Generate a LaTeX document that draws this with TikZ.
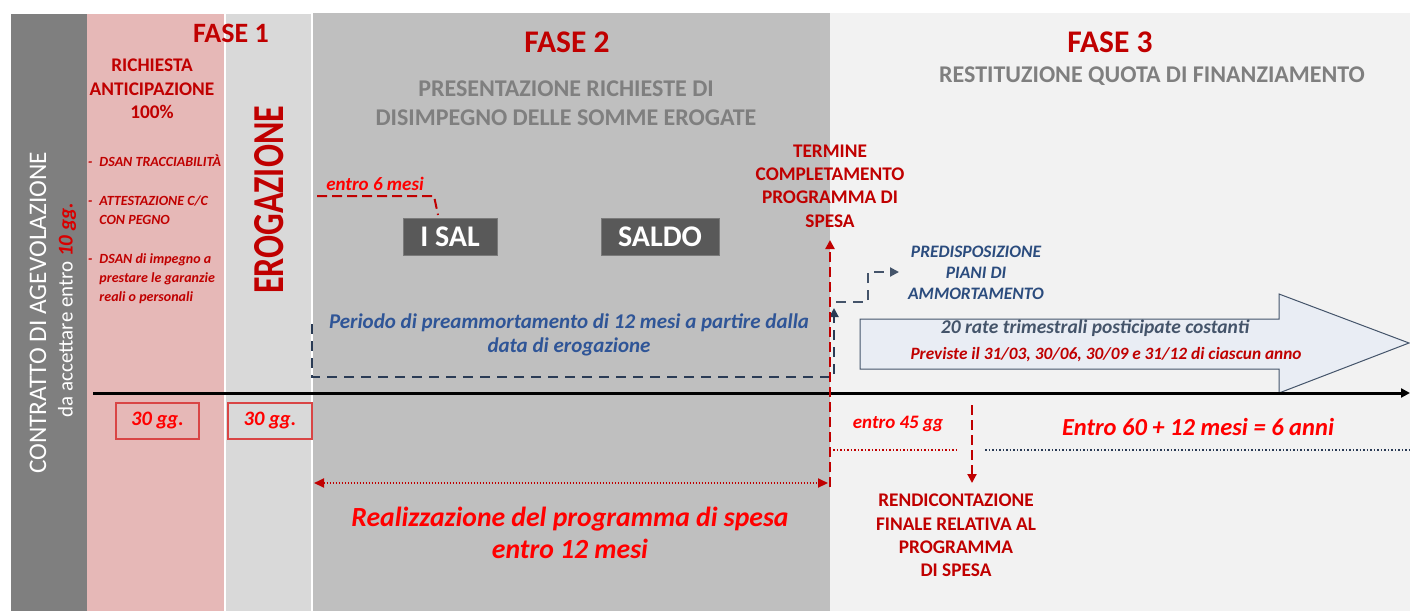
\documentclass[tikz,border=0pt]{standalone}
\usepackage{fontspec}
\setmainfont{Carlito}
\usetikzlibrary{arrows.meta}
\definecolor{darkred}{HTML}{C00000}
\definecolor{brightred}{HTML}{FF0000}
\definecolor{bandA}{HTML}{7F7F7F}
\definecolor{bandB}{HTML}{E6B8B7}
\definecolor{bandC}{HTML}{D9D9D9}
\definecolor{bandD}{HTML}{BFBFBF}
\definecolor{bandE}{HTML}{F2F2F2}
\definecolor{slate}{HTML}{44546A}
\definecolor{navy}{HTML}{2A3B55}
\definecolor{bluetext}{HTML}{2F5597}
\definecolor{predblue}{HTML}{2B4C7E}
\definecolor{boxgrey}{HTML}{595959}
\definecolor{arrowfill}{HTML}{E9EDF4}
\definecolor{ggborder}{HTML}{D94545}
\newcommand{\fsz}[2]{\fontsize{#1}{#2}\selectfont}
\tikzset{
  phase/.style={text=darkred, font=\fsz{31.5}{32}\bfseries, inner sep=0},
  subhead/.style={text=bandA, font=\fsz{24}{29}\bfseries, align=center, inner sep=0},
  redhead/.style={text=darkred, font=\fsz{19.3}{23.3}\bfseries, align=center, inner sep=0},
  bulletitem/.style={text=darkred, font=\fsz{14}{19}\bfseries\itshape, anchor=west, inner sep=0},
  salbox/.style={fill=boxgrey, draw=boxgrey!80!white, text=white, font=\fsz{30}{30}\bfseries, inner sep=0, minimum height=37},
  brightlabel/.style={text=brightred, font=\fsz{19}{20}\bfseries\itshape, inner sep=0},
  bluelabel/.style={text=bluetext, font=\fsz{21}{24}\bfseries\itshape, align=center, inner sep=0},
  reddash/.style={draw=darkred, line width=2.5, dash pattern=on 10 off 5},
  navydash/.style={draw=navy, line width=2, dash pattern=on 10 off 7},
  tipend/.style={-{Triangle[length=9,width=9]}},
  ggbox/.style={draw=ggborder, line width=1.5, text=brightred, font=\fsz{20.5}{22}\bfseries\itshape, inner sep=0, minimum height=36}
}
\begin{document}
\begin{tikzpicture}[x=1pt,y=-1pt]
\useasboundingbox (0,0) rectangle (1410,611);
\fill[white] (0,0) rectangle (1410,611);
% bands
\fill[bandA] (11,14) rectangle (87,611);
\fill[bandB] (87,14) rectangle (225,611);
\fill[bandC] (225,14) rectangle (312,611);
\fill[bandD] (312,13) rectangle (830,611);
\fill[bandE] (830,13) rectangle (1410,611);
\draw[white, line width=1.5] (225,14) -- (225,611);
\draw[white, line width=1.5] (312,13) -- (312,611);

% headers
\node[phase, font=\fsz{28}{28}\bfseries] (f1) at (231,33) {FASE 1};
\node[phase] (f2) at (567,42) {FASE 2};
\node[phase] (f3) at (1110,42) {FASE 3};
\node[subhead] (pres) at (566,103) {PRESENTAZIONE RICHIESTE DI\\DISIMPEGNO DELLE SOMME EROGATE};
\node[subhead] (rest) at (1152,76) {RESTITUZIONE QUOTA DI FINANZIAMENTO};

% left column
\node[rotate=90, text=white, font=\fsz{25.3}{25}, inner sep=0] (contr) at (38,313) {CONTRATTO DI AGEVOLAZIONE};
\node[rotate=90, text=white, font=\fsz{21}{21}, inner sep=0] (acc) at (67,310) {da accettare entro {\color{brightred!85!black}\bfseries\itshape 10 gg.}};

% fase 1
\node[redhead] (rich) at (152,89) {RICHIESTA\\ANTICIPAZIONE\\100\%};
\node[bulletitem] (b1) at (88,163) {\begin{tabular}{@{}l@{\hspace{7pt}}l@{}}-&DSAN TRACCIABILITÀ\end{tabular}};
\node[bulletitem] (b2) at (88,211) {\begin{tabular}{@{}l@{\hspace{7pt}}l@{}}-&ATTESTAZIONE C/C\\&CON PEGNO\end{tabular}};
\node[bulletitem] (b3) at (88,279) {\begin{tabular}{@{}l@{\hspace{7pt}}l@{}}-&DSAN di impegno a\\&prestare le garanzie\\&reali o personali\end{tabular}};
\node[rotate=90, text=darkred, font=\fsz{34}{34}\bfseries, inner sep=0] (erog) at (269,200) {\scalebox{1}[1.3]{EROGAZIONE}};

% fase 2
\node[brightlabel] (e6) at (375,184) {entro 6 mesi};
\node[salbox, minimum width=94] (isal) at (450,236.5) {I SAL};
\node[salbox, minimum width=118] (saldo) at (660,236.5) {SALDO};
\coordinate (d1) at (317,196);
\coordinate (d2) at (434,196);
\coordinate (d3) at (438,215);
\draw[reddash, line width=2] (d1) -- (d2) -- (d3);
\node[bluelabel] (per) at (569,335) {Periodo di preammortamento di 12 mesi a partire dalla\\data di erogazione};

% axis
\coordinate (axL) at (93,393);
\coordinate (axR) at (1410,393);

% big arrow
\draw[slate, line width=1, fill=arrowfill] (860,319) -- (1279,319) -- (1279,294) -- (1409,343) -- (1279,393) -- (1279,369) -- (860,369) -- cycle;
\node[text=slate, font=\fsz{19.5}{20}\bfseries\itshape, inner sep=0] (rate) at (1095,328) {20 rate trimestrali posticipate costanti};
\node[text=darkred, font=\fsz{17.3}{18}\bfseries\itshape, inner sep=0] (prev) at (1106,355) {Previste il 31/03, 30/06, 30/09 e 31/12 di ciascun anno};

\draw[line width=3, -{Triangle[length=9,width=9]}] (axL) -- (axR);

% navy dashed connectors
\coordinate (n1) at (312,324);
\coordinate (n2) at (834,308);
\draw[navydash, tipend] (n1) |- (834,377) -- (n2);
\coordinate (p1) at (836,302);
\coordinate (p2) at (899,272);
\draw[navydash, draw=slate, tipend] (p1) -| (868,272) -- (p2);
\node[text=predblue, font=\fsz{17.5}{21}\bfseries\itshape, align=center, inner sep=0] (pred) at (976,273) {PREDISPOSIZIONE\\PIANI DI\\AMMORTAMENTO};

% termine
\node[redhead] (term) at (830,186) {TERMINE\\COMPLETAMENTO\\PROGRAMMA DI\\SPESA};
\coordinate (rb) at (830,487);
\coordinate (rt) at (830,240);
\draw[reddash, tipend] (rb) -- (rt);

% bottom
\node[ggbox, minimum width=83] (g1) at (157.5,421) {30 gg.};
\node[ggbox, minimum width=84] (g2) at (270,421) {30 gg.};
\coordinate (r1) at (314,483);
\coordinate (r2) at (828,483);
\draw[darkred, line width=2, dash pattern=on 1.5 off 1.5, {Triangle[length=10,width=9]}-{Triangle[length=10,width=9]}] (r1) -- (r2);
\node[text=brightred, font=\fsz{27.7}{32}\bfseries\itshape, align=center, inner sep=0] (real) at (570,533) {Realizzazione del programma di spesa\\entro 12 mesi};

\node[brightlabel] (e45) at (898,424) {entro 45 gg};
\coordinate (o1) at (833,450);
\coordinate (o2) at (958,450);
\coordinate (o3) at (985,450);
\coordinate (o4) at (1410,450);
\draw[darkred, line width=2, dash pattern=on 1.5 off 2] (o1) -- (o2);
\draw[navy, line width=1.5, dash pattern=on 1.5 off 2] (o3) -- (o4);
\coordinate (v1) at (972,405);
\coordinate (v2) at (972,483);
\draw[reddash, line width=2, tipend] (v1) -- (v2);
\node[text=brightred, font=\fsz{24.5}{26}\bfseries\itshape, inner sep=0] (e60) at (1198,427) {Entro 60 + 12 mesi = 6 anni};
\node[redhead] (rend) at (956,535.5) {RENDICONTAZIONE\\FINALE RELATIVA AL\\PROGRAMMA\\DI SPESA};
\end{tikzpicture}
\end{document}
